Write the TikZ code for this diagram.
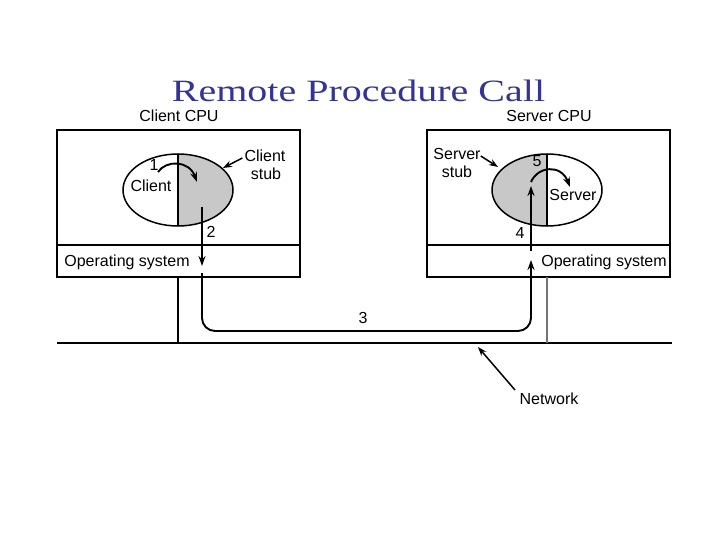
\documentclass[tikz,border=0pt]{standalone}
\usepackage{fontspec}
\setmainfont{Liberation Serif}
\newfontfamily\lsans{Liberation Sans}
\usetikzlibrary{arrows.meta}
\definecolor{titleblue}{RGB}{51,51,153}
\definecolor{stubgray}{RGB}{200,200,200}
\begin{document}
\begin{tikzpicture}[x=1pt,y=-1pt,
  lbl/.style={font=\lsans\fontsize{16}{16}\selectfont, inner sep=0pt},
  boxline/.style={line width=1.5pt},
  flow/.style={line width=1.9pt, -{Stealth[length=10pt,width=7pt]}},
  ptr/.style={line width=1.5pt, -{Stealth[length=9pt,width=6.5pt]}}]
\useasboundingbox (0,0) rectangle (720,540);
% title
\node[anchor=base, inner sep=0pt, text=titleblue] (title) at (358.5,102)
  {\scalebox{1.29}[1]{\fontsize{31}{31}\selectfont Remote Procedure Call}};
% CPU labels
\node[lbl] (ccpu) at (179,116) {Client CPU};
\node[lbl] (scpu) at (549,116) {Server CPU};
% client box
\draw[boxline] (57,130) rectangle (300,277);
\draw[boxline] (57,245) -- (300,245);
% server box
\draw[boxline] (427,130) rectangle (670,277);
\draw[boxline] (427,245) -- (670,245);
% client ellipse
\begin{scope}
  \clip (178,140) rectangle (240,240);
  \fill[stubgray] (178,190) ellipse [x radius=55, y radius=36];
\end{scope}
\draw[boxline] (178,190) ellipse [x radius=55, y radius=36];
\draw[boxline] (178,154) -- (178,226);
% server ellipse
\begin{scope}
  \clip (480,140) rectangle (547,240);
  \fill[stubgray] (547,190) ellipse [x radius=55, y radius=36];
\end{scope}
\draw[boxline] (547,190) ellipse [x radius=55, y radius=36];
\draw[boxline] (547,154) -- (547,226);
% texts
\node[lbl] (client) at (151,186) {Client};
\node[lbl] (one) at (154,165) {1};
\node[lbl] (cstub1) at (265,156) {Client};
\node[lbl] (cstub2) at (266,174) {stub};
\node[lbl] (two) at (211,232) {2};
\node[lbl] (cos) at (127,262) {Operating system};
\node[lbl] (sstub1) at (457,154) {Server};
\node[lbl] (sstub2) at (457,172) {stub};
\node[lbl] (five) at (537,161) {5};
\node[lbl] (server) at (573,195) {Server};
\node[lbl] (four) at (520,233) {4};
\node[lbl] (sos) at (604,262) {Operating system};
\node[lbl] (three) at (363,318) {3};
\node[lbl] (net) at (549,399) {Network};
% coordinates
\coordinate (a1s) at (158,172);
\coordinate (a1e) at (197,182);
\coordinate (csptr) at (223,168);
\coordinate (ssptr) at (498,167);
\coordinate (a2s) at (202,207);
\coordinate (a2e) at (202,266);
\coordinate (p3s) at (202,273);
\coordinate (p3e) at (531,260);
\coordinate (a4s) at (531,251);
\coordinate (a4e) at (531,186);
\coordinate (a5s) at (531,182);
\coordinate (a5e) at (570,187);
\coordinate (cdrop) at (178,277);
\coordinate (sdrop) at (547,277);
\coordinate (nl) at (57,343);
\coordinate (nr) at (672,343);
\coordinate (cnet) at (178,343);
\coordinate (snet) at (547,343);
\coordinate (nptr) at (478,347);
\coordinate (nfrom) at (515,390);
% network and drops
\draw[boxline] (nl) -- (nr);
\draw[line width=1.2pt] (cdrop) -- (cnet);
\draw[line width=1.2pt, black!55] (sdrop) -- (snet);
% pointers
\draw[ptr] (cstub1.west) ++(-2,2) -- (csptr);
\draw[ptr] (sstub1.east) ++(0,2) -- (ssptr);
\draw[ptr] (nfrom) -- (nptr);
% flow arrows
\draw[flow] (a1s) .. controls (166,160) and (189,160) .. (a1e);
\draw[flow] (a2s) -- (a2e);
\draw[flow, rounded corners=13pt] (p3s) |- (366,331) -| (p3e);
\draw[flow] (a4s) -- (a4e);
\draw[flow] (a5s) .. controls (538,166) and (561,164) .. (a5e);
\end{tikzpicture}
\end{document}
